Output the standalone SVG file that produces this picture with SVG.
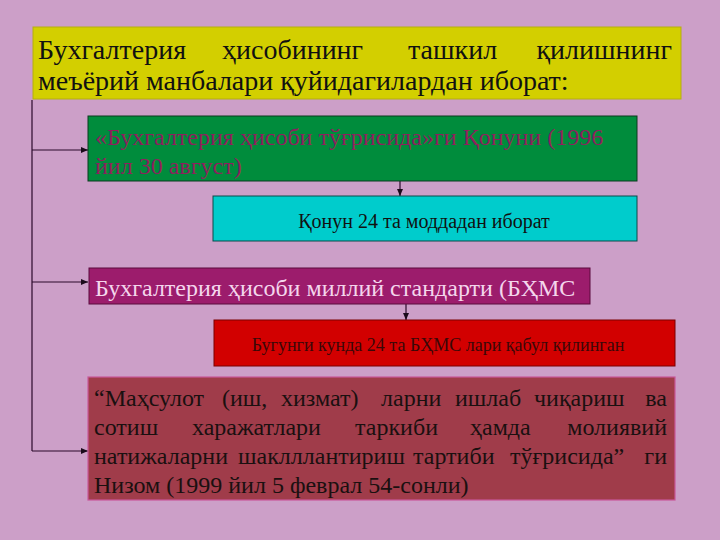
<svg xmlns="http://www.w3.org/2000/svg" width="720" height="540" viewBox="0 0 720 540">
<defs>
<style>
text{font-family:"Liberation Serif","Times New Roman",serif;}
.t{font-size:28px;fill:#111;}
.g{font-size:24px;fill:#8E1F5E;}
.c{font-size:20px;fill:#111;}
.m{font-size:24px;fill:#F4D6EC;}
.r{font-size:18px;fill:#3A0808;}
.b{font-size:24px;fill:#1A1010;}
.conn{stroke:#2A0A2A;stroke-width:1.2;fill:none;}
</style>
<marker id="ah" markerWidth="8" markerHeight="8" refX="7" refY="4" orient="auto" markerUnits="userSpaceOnUse">
<path d="M0,1 L7,4 L0,7 Z" fill="#1A0A1A"/>
</marker>
</defs>
<rect width="720" height="540" fill="#CC9FC8"/>

<g id="title">
<rect x="33" y="27" width="648" height="72" fill="#D3CF00" stroke="#B5AE10" stroke-width="1"/>
<text class="t" y="59"><tspan x="38">Бухгалтерия</tspan><tspan x="222">ҳисобининг</tspan><tspan x="408">ташкил</tspan></text>
<text class="t" x="672" y="59" text-anchor="end">қилишнинг</text>
<text class="t" x="38" y="90">меъёрий манбалари қуйидагилардан иборат:</text>
</g>

<g id="connectors">
<path class="conn" d="M32,100 V451"/>
<path class="conn" d="M32,150 H88" marker-end="url(#ah)"/>
<path class="conn" d="M32,282 H88" marker-end="url(#ah)"/>
<path class="conn" d="M32,451 H88" marker-end="url(#ah)"/>
<path class="conn" d="M400,181 V196" marker-end="url(#ah)"/>
<path class="conn" d="M406,304 V320" marker-end="url(#ah)"/>
</g>

<g id="law">
<rect x="88" y="116" width="549" height="65" fill="#008C3C" stroke="#0A3A1E" stroke-width="1"/>
<text class="g" x="95" y="145">«Бухгалтерия ҳисоби тўғрисида»ги Қонуни (1996</text>
<text class="g" x="95" y="174">йил 30 август)</text>
</g>

<g id="law-articles">
<rect x="213" y="196" width="424" height="45" fill="#00CCCC" stroke="#0A4A4A" stroke-width="1"/>
<text class="c" x="424" y="228" text-anchor="middle">Қонун 24 та моддадан иборат</text>
</g>

<g id="standards">
<rect x="89" y="268" width="501" height="36" fill="#9C1C6C" stroke="#5A0A3C" stroke-width="1"/>
<text class="m" x="95" y="296">Бухгалтерия ҳисоби миллий стандарти (БҲМС</text>
</g>

<g id="standards-count">
<rect x="214" y="320" width="461" height="46" fill="#D20000" stroke="#7A0000" stroke-width="1"/>
<text class="r" x="438" y="351" text-anchor="middle">Бугунги кунда 24 та БҲМС лари қабул қилинган</text>
</g>

<g id="regulation">
<rect x="88" y="377" width="587" height="123" fill="#A03C4A" stroke="#C8589A" stroke-width="1.2"/>
<text class="b" y="406"><tspan x="94">“Маҳсулот</tspan><tspan x="222">(иш,</tspan><tspan x="281">хизмат)</tspan><tspan x="381">ларни</tspan><tspan x="455">ишлаб</tspan><tspan x="534">чиқариш</tspan></text>
<text class="b" x="667" y="406" text-anchor="end">ва</text>
<text class="b" y="435"><tspan x="94">сотиш</tspan><tspan x="192">харажатлари</tspan><tspan x="355">таркиби</tspan><tspan x="470">ҳамда</tspan></text>
<text class="b" x="667" y="435" text-anchor="end">молиявий</text>
<text class="b" y="464"><tspan x="94">натижаларни</tspan><tspan x="238">шаклллантириш</tspan><tspan x="413">тартиби</tspan><tspan x="510">тўғрисида”</tspan></text>
<text class="b" x="667" y="464" text-anchor="end">ги</text>
<text class="b" x="94" y="493">Низом (1999 йил 5 феврал 54-сонли)</text>
</g>
</svg>
